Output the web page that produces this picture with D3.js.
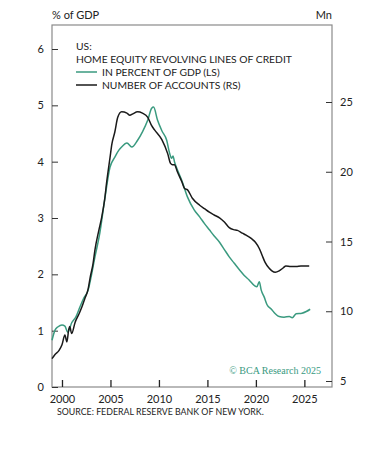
<!DOCTYPE html>
<html><head><meta charset="utf-8">
<script src="https://cdn.jsdelivr.net/npm/d3@7"></script>
<style>
html,body{margin:0;padding:0;background:#fff;}
svg text{font-family:Lato, "Open Sans", sans-serif;fill:#222;}
</style></head>
<body><svg id="c" width="383" height="461"></svg>
<script>
const gdpYears = [1998.97,1999.28,1999.6,2000.0,2000.3,2000.6,2001.0,2001.45,2001.85,2002.25,2002.7,2003.0,2003.4,2003.9,2004.4,2004.95,2005.45,2005.85,2006.15,2006.7,2007.2,2007.8,2008.3,2008.85,2009.25,2009.45,2009.85,2010.3,2010.8,2011.1,2011.3,2011.45,2011.6,2011.8,2012.35,2012.95,2013.65,2014.2,2014.7,2015.2,2015.7,2016.25,2016.75,2017.25,2017.75,2018.3,2018.8,2019.3,2019.85,2020.1,2020.35,2020.55,2020.85,2021.15,2021.6,2022.0,2022.4,2022.9,2023.45,2023.75,2024.15,2024.75,2025.2,2025.6];
const gdpValues = [0.83,1.01,1.07,1.10,1.08,0.97,1.14,1.25,1.42,1.58,1.72,1.95,2.31,2.73,3.32,3.9,4.08,4.2,4.26,4.33,4.26,4.38,4.53,4.74,4.95,4.97,4.74,4.55,4.38,4.15,4.06,4.1,4.0,3.9,3.67,3.37,3.14,3.02,2.9,2.79,2.68,2.57,2.44,2.31,2.2,2.08,1.98,1.9,1.8,1.78,1.87,1.72,1.6,1.46,1.38,1.3,1.25,1.24,1.25,1.23,1.3,1.31,1.34,1.38];
const accYears = [1998.97,1999.28,1999.7,2000.0,2000.3,2000.5,2000.7,2000.8,2001.0,2001.35,2001.75,2002.05,2002.35,2002.7,2002.9,2003.2,2003.4,2003.8,2004.1,2004.4,2004.6,2004.95,2005.15,2005.45,2005.75,2006.15,2006.7,2007.0,2007.3,2007.8,2008.3,2008.85,2009.25,2009.55,2010.3,2010.9,2011.2,2011.4,2011.6,2011.9,2012.35,2012.65,2012.95,2013.45,2014.2,2014.7,2015.2,2015.7,2016.25,2016.75,2017.25,2017.7,2018.1,2018.6,2019.0,2019.55,2019.95,2020.35,2020.65,2020.95,2021.35,2021.65,2022.0,2022.4,2022.8,2023.1,2023.6,2024.15,2024.65,2025.1,2025.5];
const accValues = [6.6,6.9,7.2,7.6,8.3,7.8,8.7,8.9,8.4,9.2,9.8,10.3,10.9,11.6,12.4,13.4,14.4,15.8,16.75,18.0,19.2,21.0,22.0,22.85,23.9,24.3,24.2,24.05,24.15,24.3,24.2,23.9,23.3,23.0,22.3,21.3,20.6,20.5,20.5,20.0,19.3,18.8,18.7,18.1,17.6,17.35,17.1,16.9,16.7,16.4,16.0,15.85,15.8,15.6,15.45,15.2,14.95,14.5,14.0,13.5,13.1,12.9,12.8,12.9,13.1,13.25,13.2,13.2,13.25,13.25,13.25];
const xTicks = [2000,2005,2010,2015,2020,2025];
const leftTicks = [0,1,2,3,4,5,6];
const rightTicks = [5,10,15,20,25];
const legendTitle = ["US:", "HOME EQUITY REVOLVING LINES OF CREDIT"];
const legendItems = ["IN PERCENT OF GDP (LS)", "NUMBER OF ACCOUNTS (RS)"];

const GREEN = "#3a9a7f", BLACK = "#1a1a1a", AXIS = "#8a8a8a";
const L = 52, R = 332, T = 25, B = 387;
const svg = d3.select("#c");
const x = d3.scaleLinear().domain([1998.97, 2027.85]).range([L, R]);
const yL = d3.scaleLinear().domain([0, 6]).range([B, 49]);
const yR = d3.scaleLinear().domain([5, 25]).range([381, 102]);

// frame
svg.append("rect").attr("x", L).attr("y", T).attr("width", R - L).attr("height", B - T)
  .attr("fill", "none").attr("stroke", AXIS).attr("stroke-width", 1.2);

// left axis
const la = svg.append("g").attr("transform", `translate(${L},0)`)
  .call(d3.axisRight(yL).tickValues(leftTicks).tickSize(6).tickFormat(d3.format("d")));
la.select(".domain").remove();
la.selectAll(".tick line").attr("stroke", "#333");
la.selectAll(".tick text").attr("x", -8).attr("text-anchor", "end").style("font-size", "11px");

// right axis
const ra = svg.append("g").attr("transform", `translate(${R},0)`)
  .call(d3.axisLeft(yR).tickValues(rightTicks).tickSize(6).tickFormat(d3.format("d")));
ra.select(".domain").remove();
ra.selectAll(".tick line").attr("stroke", "#333");
ra.selectAll(".tick text").attr("x", 8).attr("text-anchor", "start").style("font-size", "11px");

// bottom axis
const ba = svg.append("g").attr("transform", `translate(0,${B})`)
  .call(d3.axisTop(x).tickValues(xTicks).tickSize(7).tickFormat(d3.format("d")));
ba.select(".domain").remove();
ba.selectAll(".tick line").attr("stroke", "#222").attr("stroke-width", 1.3);
ba.selectAll(".tick text").attr("y", 16).attr("dy", 0).style("font-size", "11px");

// lines
const lineL = d3.line().x((d, i) => x(gdpYears[i])).y(d => yL(d)).curve(d3.curveMonotoneX);
const lineR = d3.line().x((d, i) => x(accYears[i])).y(d => yR(d)).curve(d3.curveMonotoneX);
svg.append("path").attr("d", lineL(gdpValues)).attr("fill", "none").attr("stroke", GREEN).attr("stroke-width", 1.5);
svg.append("path").attr("d", lineR(accValues)).attr("fill", "none").attr("stroke", BLACK).attr("stroke-width", 1.5);

// axis titles
svg.append("text").attr("x", L).attr("y", 19).style("font-size", "11px").text("% of GDP");
svg.append("text").attr("x", R).attr("y", 19).attr("text-anchor", "end").style("font-size", "11px").text("Mn");

// legend
const lx = 76;
legendTitle.forEach((t, i) => svg.append("text").attr("x", lx).attr("y", 50 + i * 13).style("font-size", "10.3px").text(t));
[GREEN, BLACK].forEach((c, i) => {
  const yy = 76 + i * 13;
  svg.append("line").attr("x1", lx).attr("x2", lx + 21).attr("y1", yy - 4).attr("y2", yy - 4).attr("stroke", c).attr("stroke-width", 1.5);
  svg.append("text").attr("x", lx + 26).attr("y", yy).style("font-size", "10.3px").text(legendItems[i]);
});

// copyright
svg.append("text").attr("x", 321).attr("y", 374).attr("text-anchor", "end")
  .style("font-family", "'Liberation Serif', serif").style("font-size", "10px").style("fill", GREEN)
  .text("© BCA Research 2025");

// source
svg.append("text").attr("x", 57).attr("y", 415).style("font-size", "8.8px").text("SOURCE: FEDERAL RESERVE BANK OF NEW YORK.");
</script></body></html>
